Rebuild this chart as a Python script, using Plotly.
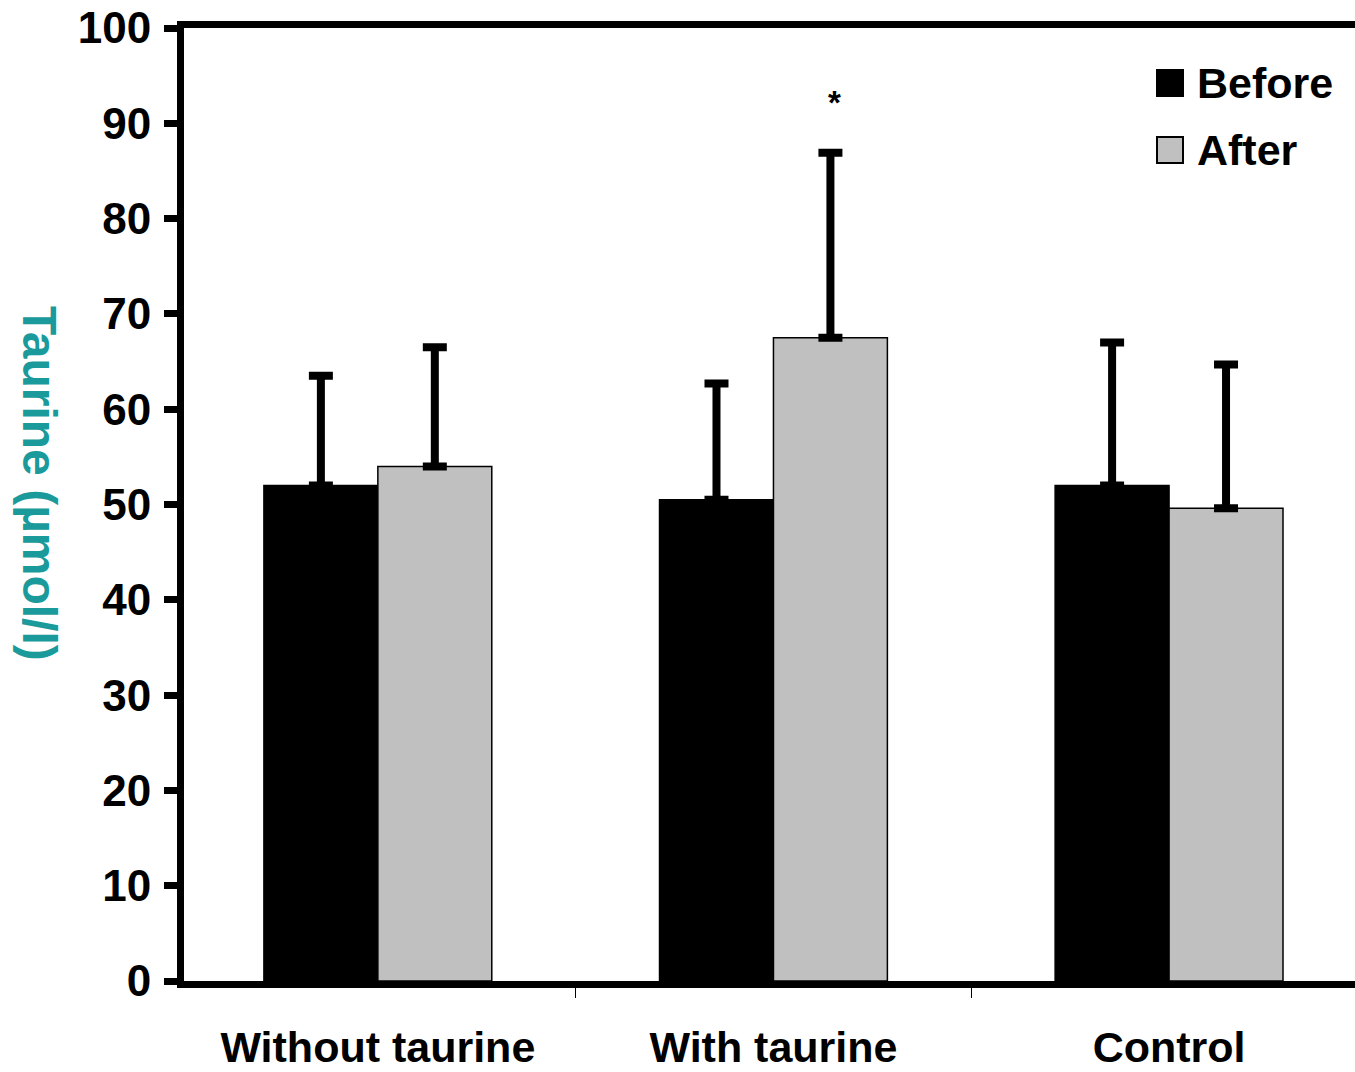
import plotly.graph_objects as go

categories = ["Without taurine", "With taurine", "Control"]
before_vals = [52.0, 50.5, 52.0]
before_err = [11.5, 12.2, 15.0]
after_vals = [54.0, 67.5, 49.6]
after_err = [12.5, 19.4, 15.1]
series_names = ["Before", "After"]
y_ticks = [0, 10, 20, 30, 40, 50, 60, 70, 80, 90, 100]

W, H = 1355, 1072
L, R, T, B = 184, 0, 28, 91
PW, PH = W - L - R, H - T - B

def px_x(px):
    return (px - L) / PW

def px_y(py):
    return (H - B - py) / PH

FONT = "Liberation Sans, Arial, sans-serif"

fig = go.Figure()
fig.add_trace(go.Bar(
    x=categories, y=before_vals, name=series_names[0],
    marker=dict(color="#000000", line=dict(color="#000000", width=1.5)),
    error_y=dict(type="data", symmetric=False, array=before_err,
                 arrayminus=[0, 0, 0], color="#000000", thickness=8, width=12),
    showlegend=False,
))
fig.add_trace(go.Bar(
    x=categories, y=after_vals, name=series_names[1],
    marker=dict(color="#c0c0c0", line=dict(color="#000000", width=1.5)),
    error_y=dict(type="data", symmetric=False, array=after_err,
                 arrayminus=[0, 0, 0], color="#000000", thickness=8, width=12),
    showlegend=False,
))

# significance asterisk above "With taurine" / After
fig.add_annotation(x=1, y=after_vals[1] + after_err[1] + 5.3, xref="x", yref="y",
                   xshift=61, text="*", showarrow=False,
                   font=dict(family=FONT, size=33, color="#000000", weight="bold"))

# manual legend
legend_items = [(series_names[0], "#000000", 70), (series_names[1], "#c0c0c0", 137)]
for name, col, top in legend_items:
    fig.add_shape(type="rect", xref="paper", yref="paper",
                  x0=px_x(1157), x1=px_x(1183), y0=px_y(top + 26), y1=px_y(top),
                  fillcolor=col, line=dict(color="#000000", width=2))
    fig.add_annotation(xref="paper", yref="paper", x=px_x(1195), y=px_y(top + 13),
                       xanchor="left", yanchor="middle", text=name, showarrow=False,
                       font=dict(family=FONT, size=43, color="#000000", weight="bold"))

# y-axis title (reads top to bottom)
fig.add_annotation(xref="paper", yref="paper", x=px_x(40), y=px_y(483),
                   text="Taurine (µmol/l)", textangle=90, showarrow=False,
                   xanchor="center", yanchor="middle",
                   font=dict(family=FONT, size=48, color="#1a9a9a", weight="bold"))

fig.update_layout(
    width=W, height=H,
    margin=dict(l=L, r=R, t=T, b=B, pad=0),
    paper_bgcolor="#ffffff", plot_bgcolor="#ffffff",
    barmode="group", bargap=0.424, bargroupgap=0,
    showlegend=False,
    xaxis=dict(
        type="category", range=[-0.49, 2.47],
        showline=True, linecolor="#000000", linewidth=7, mirror=True,
        ticks="outside", tickson="boundaries", ticklen=10, tickwidth=1,
        tickcolor="#000000", showgrid=False, zeroline=False,
        tickfont=dict(family=FONT, size=43, color="#000000", weight="bold"),
        ticklabelstandoff=22,
    ),
    yaxis=dict(
        range=[0, 100], tickvals=y_ticks, ticktext=[str(v) for v in y_ticks],
        showline=True, linecolor="#000000", linewidth=7,
        ticks="outside", ticklen=13, tickwidth=7, tickcolor="#000000",
        showgrid=False, zeroline=False,
        tickfont=dict(family=FONT, size=44, color="#000000", weight="bold"),
        ticklabelstandoff=4,
    ),
)

fig.write_html("out.html")
